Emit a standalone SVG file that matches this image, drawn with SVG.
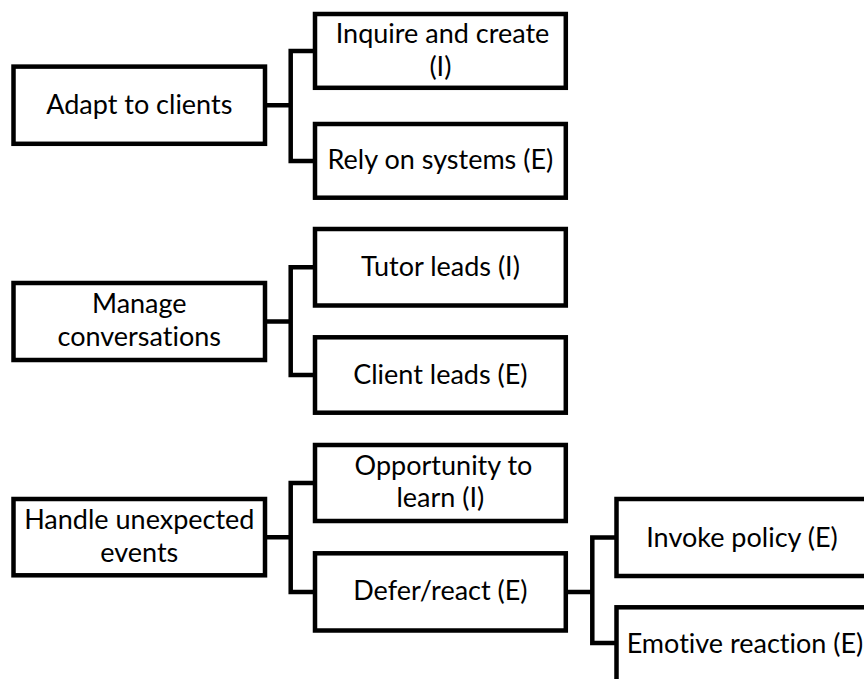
<svg xmlns="http://www.w3.org/2000/svg" width="864" height="679" viewBox="0 0 864 679">
<style>
.box{fill:#ffffff;stroke:#000000;stroke-width:4.5}
.lbl{font-family:Lato,"Open Sans","Liberation Sans",sans-serif;font-size:27px;fill:#000000;text-anchor:middle;font-variant-ligatures:none}
.con{fill:none;stroke:#000000;stroke-width:4.5;stroke-linejoin:miter}
</style>
<rect width="864" height="679" fill="#ffffff"/>
<g id="connectors">
<path class="con" d="M265,105.2 H290.7 M315,51 H290.7 V161 H315"/>
<path class="con" d="M265,321.5 H290.7 M315,267.3 H290.7 V375 H315"/>
<path class="con" d="M265,537.2 H290.7 M315,483 H290.7 V592 H315"/>
<path class="con" d="M565.8,592 H592.3 M616.5,537.5 H592.3 V643 H616.5"/>
</g>
<g id="n-adapt">
<rect class="box" x="13.5" y="66.6" width="251.5" height="77.2"/>
<text class="lbl" x="139.3" y="113.5">Adapt to clients</text>
</g>
<g id="n-inquire">
<rect class="box" x="315" y="14" width="250.8" height="73.8"/>
<text class="lbl" x="442.5" y="42.8">Inquire and create</text>
<text class="lbl" x="440.4" y="75.8">(I)</text>
</g>
<g id="n-rely">
<rect class="box" x="315" y="124" width="250.8" height="73.7"/>
<text class="lbl" x="440.4" y="169.2">Rely on systems (E)</text>
</g>
<g id="n-manage">
<rect class="box" x="13.5" y="283" width="251.5" height="77"/>
<text class="lbl" x="139.3" y="313.2">Manage</text>
<text class="lbl" x="139.3" y="346.2">conversations</text>
</g>
<g id="n-tutor">
<rect class="box" x="315" y="229" width="250.8" height="76.5"/>
<text class="lbl" x="440.4" y="275.5">Tutor leads (I)</text>
</g>
<g id="n-client">
<rect class="box" x="315" y="337.3" width="250.8" height="75.4"/>
<text class="lbl" x="440.4" y="383.5">Client leads (E)</text>
</g>
<g id="n-handle">
<rect class="box" x="13.5" y="499" width="251.5" height="76.3"/>
<text class="lbl" x="139.3" y="529.4">Handle unexpected</text>
<text class="lbl" x="139.3" y="562">events</text>
</g>
<g id="n-opportunity">
<rect class="box" x="315" y="445" width="250.8" height="76"/>
<text class="lbl" x="443.5" y="475.2">Opportunity to</text>
<text class="lbl" x="440.4" y="507.2">learn (I)</text>
</g>
<g id="n-defer">
<rect class="box" x="315" y="553.3" width="250.8" height="77.2"/>
<text class="lbl" x="440.4" y="600.2">Defer/react (E)</text>
</g>
<g id="n-invoke">
<rect class="box" x="616.5" y="499" width="251" height="77"/>
<text class="lbl" x="742" y="547.2">Invoke policy (E)</text>
</g>
<g id="n-emotive">
<rect class="box" x="616.5" y="607.3" width="251" height="76"/>
<text class="lbl" x="745" y="653.4">Emotive reaction (E)</text>
</g>
</svg>
